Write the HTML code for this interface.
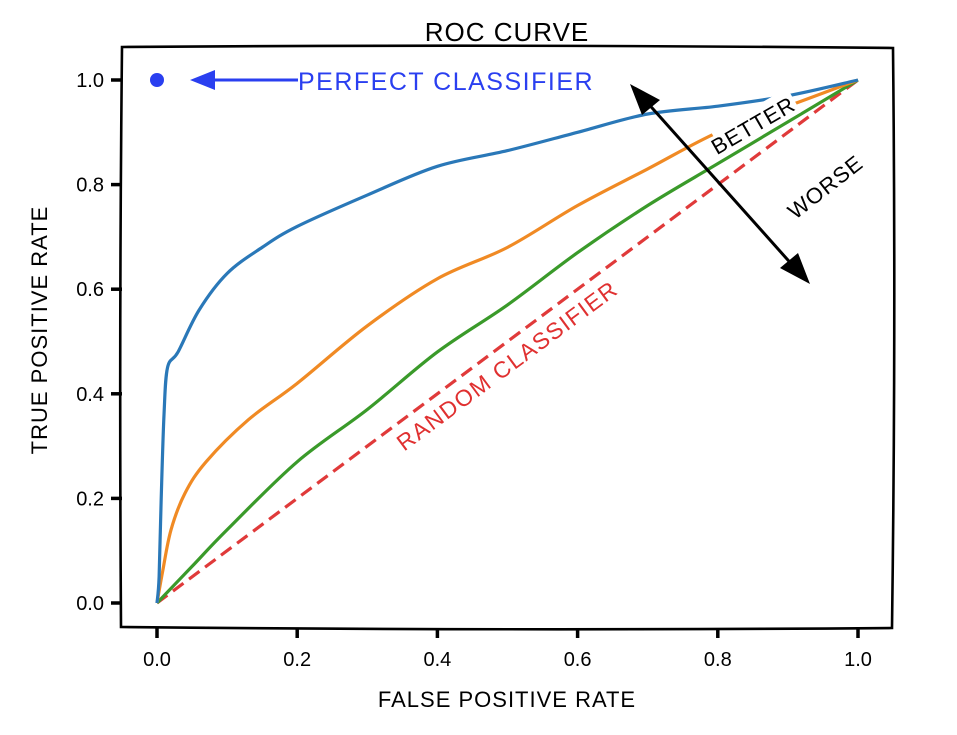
<!DOCTYPE html>
<html><head><meta charset="utf-8"><style>
html,body{margin:0;padding:0;background:#fff;}
svg{display:block;font-family:"Liberation Sans","DejaVu Sans",sans-serif;}
</style></head><body>
<svg id="chart" width="957" height="735" viewBox="0 0 957 735" xmlns="http://www.w3.org/2000/svg">
<rect x="0" y="0" width="957" height="735" fill="#fff"/>
<path d="M122,47 Q500,44 893,48 Q896,330 892,628 Q500,631 121,627 Q119,330 122,47 Z" fill="none" stroke="#000" stroke-width="2.6"/>
<text x="507" y="41" text-anchor="middle" font-size="26" letter-spacing="1">ROC CURVE</text>
<text x="507" y="707" text-anchor="middle" font-size="22" letter-spacing="1">FALSE POSITIVE RATE</text>
<text x="0" y="0" transform="translate(47,330) rotate(-90)" text-anchor="middle" font-size="22" letter-spacing="1">TRUE POSITIVE RATE</text>
<g id="axes"></g>
<g id="series"></g>
<g id="annot">
<circle cx="157" cy="80" r="7" fill="#2a3ff0"/>
<line x1="298" y1="80" x2="205" y2="80" stroke="#2a3ff0" stroke-width="3"/>
<polygon points="190,80 215,70 215,90" fill="#2a3ff0"/>
<text x="298" y="90" font-size="25" fill="#2a3ff0" letter-spacing="1.5">PERFECT CLASSIFIER</text>
<line x1="645" y1="100" x2="795" y2="268" stroke="#000" stroke-width="3"/>
<polygon points="630,84 660,100 642,115" fill="#000"/>
<polygon points="810,284 780,268 798,253" fill="#000"/>
<rect x="712" y="108" width="88" height="28" fill="#fff" transform="rotate(-30 756 122)"/>
<text transform="translate(757,132) rotate(-30)" text-anchor="middle" font-size="22" letter-spacing="1">BETTER</text>
<text transform="translate(830,193) rotate(-38)" text-anchor="middle" font-size="22" letter-spacing="1">WORSE</text>
<text transform="translate(512,372) rotate(-36.5)" text-anchor="middle" font-size="23" fill="#e03030" letter-spacing="1.5">RANDOM CLASSIFIER</text>
</g>
</svg>
<script>
const xTicks=[0,0.2,0.4,0.6,0.8,1.0];
const yTicks=[0,0.2,0.4,0.6,0.8,1.0];
const blueX=[0,0.003,0.006,0.01,0.015,0.03,0.06,0.1,0.15,0.2,0.3,0.4,0.5,0.6,0.7,0.8,0.9,1];
const blueY=[0,0.05,0.2,0.36,0.45,0.48,0.56,0.63,0.68,0.72,0.78,0.835,0.865,0.9,0.935,0.95,0.97,1];
const orangeX=[0,0.008,0.02,0.04,0.07,0.13,0.2,0.3,0.4,0.5,0.6,0.7,0.8,0.9,1];
const orangeY=[0,0.06,0.14,0.21,0.27,0.35,0.42,0.53,0.62,0.68,0.76,0.83,0.9,0.95,1];
const greenX=[0,0.05,0.1,0.2,0.3,0.4,0.5,0.6,0.7,0.8,0.9,1];
const greenY=[0,0.07,0.14,0.27,0.37,0.48,0.57,0.67,0.76,0.84,0.92,1];
const randomX=[0,1];
const randomY=[0,1];
const NS="http://www.w3.org/2000/svg";
function sx(v){return 157+v*701;}
function sy(v){return 603-v*523;}
const axes=document.getElementById('axes');
xTicks.forEach(t=>{
 const l=document.createElementNS(NS,'line');
 
 
 l.setAttribute('x1',sx(t));l.setAttribute('x2',sx(t));l.setAttribute('y1',628);l.setAttribute('y2',638);
 l.setAttribute('stroke','#000');l.setAttribute('stroke-width','3.5');axes.appendChild(l);
 const tx=document.createElementNS(NS,'text');
 
 
 tx.setAttribute('x',sx(t));tx.setAttribute('y',666);tx.setAttribute('text-anchor','middle');tx.setAttribute('font-size','20');
 tx.textContent=t.toFixed(1);axes.appendChild(tx);
});
yTicks.forEach(t=>{
 const l=document.createElementNS(NS,'line');
 
 
 l.setAttribute('x1',111);l.setAttribute('x2',122);l.setAttribute('y1',sy(t));l.setAttribute('y2',sy(t));
 l.setAttribute('stroke','#000');l.setAttribute('stroke-width','3.5');axes.appendChild(l);
 const tx=document.createElementNS(NS,'text');
 
 
 tx.setAttribute('x',104);tx.setAttribute('y',sy(t)+7);tx.setAttribute('text-anchor','end');tx.setAttribute('font-size','20');
 tx.textContent=t.toFixed(1);axes.appendChild(tx);
});
const series=document.getElementById('series');
function smooth(pts){
 let d='M'+pts[0][0]+','+pts[0][1];
 for(let i=0;i<pts.length-1;i++){
  const p0=pts[Math.max(0,i-1)],p1=pts[i],p2=pts[i+1],p3=pts[Math.min(pts.length-1,i+2)];
  const c1x=p1[0]+(p2[0]-p0[0])/6,c1y=p1[1]+(p2[1]-p0[1])/6;
  const c2x=p2[0]-(p3[0]-p1[0])/6,c2y=p2[1]-(p3[1]-p1[1])/6;
  d+=' C'+c1x+','+c1y+' '+c2x+','+c2y+' '+p2[0]+','+p2[1];
 }
 return d;
}
function draw(xs,ys,color,name,dash){
 const p=document.createElementNS(NS,'path');
 
 
 p.setAttribute('d',smooth(xs.map((x,i)=>[sx(x),sy(ys[i])])));
 p.setAttribute('fill','none');p.setAttribute('stroke',color);p.setAttribute('stroke-width','3.2');
 p.setAttribute('stroke-linejoin','round');
 if(dash)p.setAttribute('stroke-dasharray',dash);
 series.appendChild(p);
}
draw(randomX,randomY,'#e03a3a','random-classifier-line','13,7');
draw(greenX,greenY,'#3a9a2a','green-roc-curve');
draw(orangeX,orangeY,'#f08a24','orange-roc-curve');
draw(blueX,blueY,'#2a78b8','blue-roc-curve');
</script>
</body></html>
